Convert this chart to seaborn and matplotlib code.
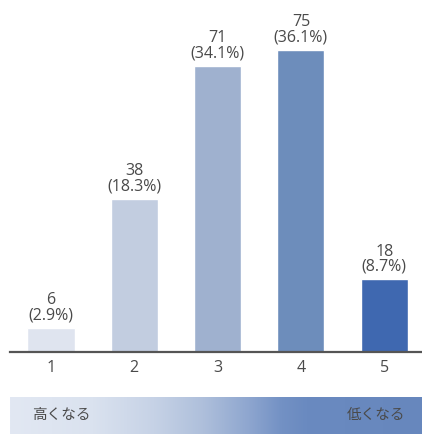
import matplotlib
matplotlib.use("Agg")
import matplotlib.pyplot as plt
import seaborn as sns
import numpy as np
import pandas as pd
from matplotlib.colors import LinearSegmentedColormap

categories = ["1", "2", "3", "4", "5"]
counts = [6, 38, 71, 75, 18]
percents = ["2.9%", "18.3%", "34.1%", "36.1%", "8.7%"]
bar_colors = ["#dfe4ef", "#c2cde0", "#9fb1cf", "#6d8dbb", "#3f68b0"]
scale_left = "高くなる"
scale_right = "低くなる"

sns.set_theme(style="white")
plt.rcParams['font.family'] = ['Open Sans', 'Noto Sans CJK JP', 'DejaVu Sans']

W, H = 422, 434
fig = plt.figure(figsize=(W / 100, H / 100), dpi=100)

ax = fig.add_axes([10 / W, (H - 352) / H, 412 / W, 352 / H])
df = pd.DataFrame({"cat": categories, "count": counts})
sns.barplot(data=df, x="cat", y="count", hue="cat", palette=bar_colors,
            legend=False, width=0.565, ax=ax, saturation=1)
ax.set_xlim(-0.492, 4.454)
ax.set_ylim(0, 87.3)
for i, (c, p) in enumerate(zip(counts, percents)):
    ax.text(i, c + 1.1, f"{c}\n({p})", ha="center", va="bottom",
            fontsize=11.5, color="#4a4a4a", linespacing=0.95)
for s in ["top", "right", "left"]:
    ax.spines[s].set_visible(False)
ax.spines["bottom"].set_color("#555555")
ax.spines["bottom"].set_linewidth(1.6)
ax.set_yticks([])
ax.set_xlabel("")
ax.set_ylabel("")
ax.tick_params(axis="x", length=0, pad=6, labelsize=11.5, labelcolor="#4a4a4a")

# gradient band
gax = fig.add_axes([10 / W, 0, 412 / W, 37 / H])
cmap = LinearSegmentedColormap.from_list(
    "band", [(0.0, "#e2e8f3"), (0.2, "#dae2ef"), (0.35, "#c6d2e6"),
             (0.47, "#aebfdb"), (0.58, "#8ea6cf"), (0.66, "#7391c4"),
             (0.72, "#6a8ac0"), (1.0, "#6787bd")])
grad = np.linspace(0, 1, 256).reshape(1, -1)
gax.imshow(grad, aspect="auto", cmap=cmap, extent=[0, 1, 0, 1])
gax.set_axis_off()
gax.text(0.053, 0.5, scale_left, ha="left", va="center", fontsize=10.5,
         color="#4a4a4a", family=['Noto Sans CJK JP', 'DejaVu Sans'])
gax.text(0.96, 0.5, scale_right, ha="right", va="center", fontsize=10.5,
         color="#4a4a4a", family=['Noto Sans CJK JP', 'DejaVu Sans'])

fig.savefig("out.png", dpi=100)
